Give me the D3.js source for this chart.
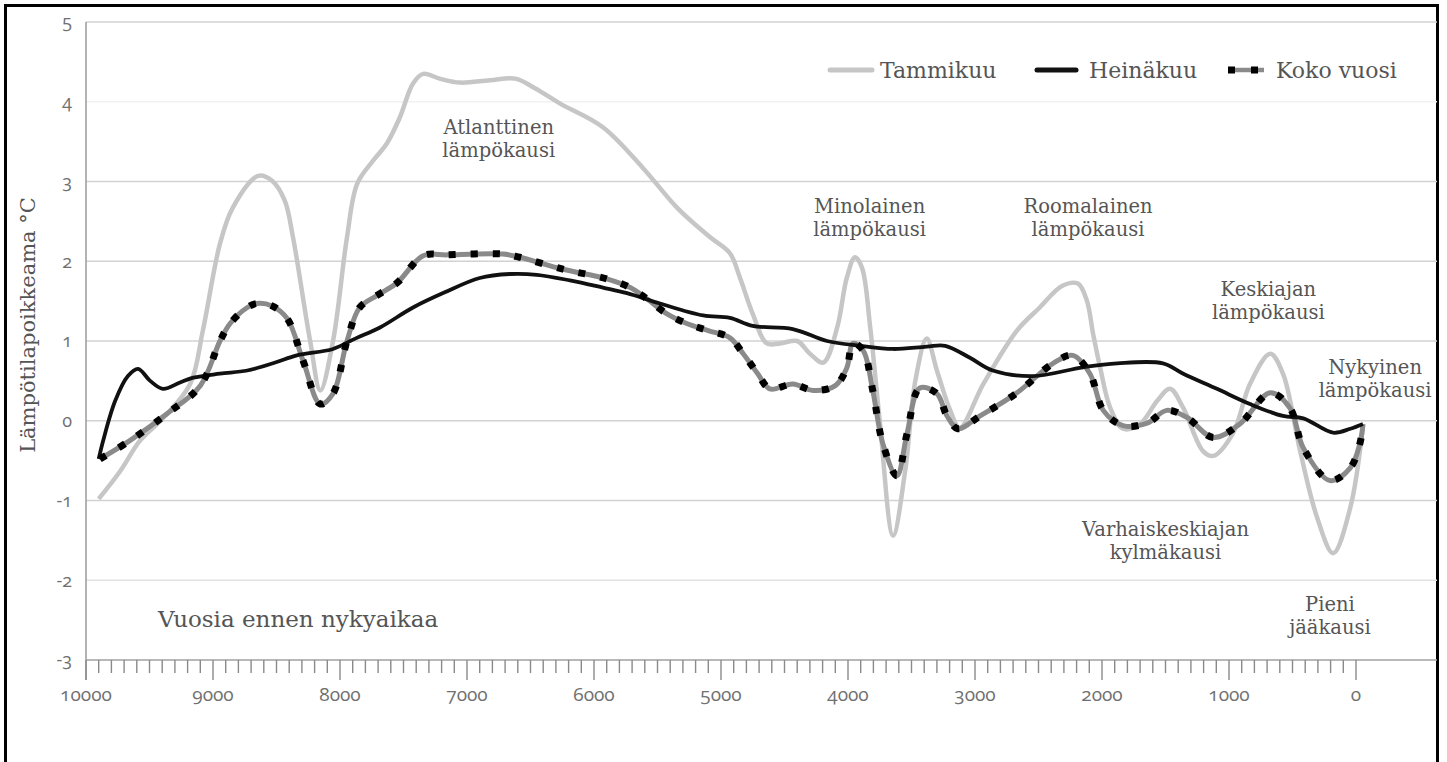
<!DOCTYPE html>
<html><head><meta charset="utf-8">
<script src="https://cdn.jsdelivr.net/npm/d3@7"></script>
<style>
html,body{margin:0;padding:0;background:#fff;}
svg{display:block;}
</style></head>
<body>
<svg id="chart" width="1447" height="762"></svg>
<script>
// ---- data ----
const yTicks = [5, 4, 3, 2, 1, 0, -1, -2, -3];
const xTickLabels = ["10000","9000","8000","7000","6000","5000","4000","3000","2000","1000","0"];
const xTickValues = [10000,9000,8000,7000,6000,5000,4000,3000,2000,1000,0];
const seriesNames = ["Tammikuu", "Heinäkuu", "Koko vuosi"];

const tammikuuYears = [9900,9730,9575,9395,9180,9080,8945,8845,8645,8535,8435,8370,8235,8155,8055,7945,7865,7740,7630,7530,7425,7345,7215,7055,6820,6620,6465,6270,5930,5615,5345,5085,4930,4850,4750,4640,4535,4400,4300,4195,4085,4010,3945,3890,3825,3750,3645,3550,3470,3380,3300,3195,3120,2935,2670,2490,2315,2190,2120,2070,2015,1935,1835,1700,1565,1465,1360,1205,1125,970,835,675,575,440,305,180,45,-55];
const tammikuuValues = [-0.98,-0.63,-0.25,0.03,0.46,1.13,2.22,2.67,3.07,3.01,2.76,2.30,1.00,0.38,1.00,2.30,2.97,3.26,3.48,3.80,4.23,4.35,4.29,4.24,4.27,4.29,4.17,3.98,3.68,3.17,2.67,2.30,2.10,1.79,1.34,0.97,0.97,1.00,0.84,0.73,1.17,1.79,2.05,1.92,1.17,0.00,-1.44,-0.63,0.50,1.03,0.63,0.13,-0.09,0.46,1.13,1.42,1.69,1.72,1.51,1.09,0.67,0.16,-0.10,-0.04,0.25,0.40,0.16,-0.38,-0.44,-0.16,0.46,0.84,0.59,-0.38,-1.22,-1.66,-1.09,-0.06];

const heinakuuYears = [9900,9865,9770,9670,9590,9495,9395,9260,9155,8945,8730,8510,8340,8055,7880,7685,7425,7175,6900,6660,6450,6190,5930,5740,5480,5140,4930,4750,4435,4165,3905,3645,3380,3235,3040,2860,2545,2150,1880,1520,1360,1095,835,575,415,180,45,-55];
const heinakuuValues = [-0.48,-0.25,0.25,0.56,0.65,0.50,0.40,0.48,0.54,0.59,0.63,0.73,0.82,0.90,1.03,1.17,1.42,1.61,1.79,1.84,1.83,1.76,1.67,1.60,1.47,1.32,1.29,1.19,1.15,1.00,0.94,0.90,0.93,0.94,0.79,0.63,0.56,0.67,0.72,0.72,0.59,0.40,0.21,0.06,0.03,-0.15,-0.10,-0.04];

const kokoYears = [9890,9655,9360,9100,8945,8865,8730,8655,8535,8415,8290,8155,8055,7945,7845,7710,7550,7345,7155,6715,6585,6245,5900,5715,5585,5425,5270,5100,4930,4825,4715,4615,4435,4275,4100,4010,3960,3880,3805,3725,3615,3535,3435,3300,3220,3135,2960,2670,2385,2230,2095,1990,1835,1645,1490,1330,1125,915,675,520,415,205,45,-30,-55];
const kokoValues = [-0.48,-0.25,0.09,0.44,1.00,1.22,1.42,1.47,1.44,1.28,0.75,0.21,0.34,1.00,1.42,1.57,1.73,2.07,2.08,2.09,2.05,1.90,1.78,1.67,1.53,1.34,1.22,1.13,1.04,0.84,0.60,0.40,0.46,0.38,0.44,0.66,0.97,0.88,0.38,-0.29,-0.69,-0.16,0.41,0.34,0.06,-0.10,0.06,0.35,0.72,0.82,0.59,0.13,-0.06,-0.03,0.13,0.04,-0.21,-0.04,0.35,0.16,-0.34,-0.75,-0.59,-0.29,-0.04];

const annotations = [
  {lines:["Atlanttinen","lämpökausi"], year:6750, value:3.6},
  {lines:["Minolainen","lämpökausi"], year:3830, value:2.6},
  {lines:["Roomalainen","lämpökausi"], year:2110, value:2.6},
  {lines:["Keskiajan","lämpökausi"], year:690, value:1.57},
  {lines:["Nykyinen","lämpökausi"], year:-150, value:0.58},
  {lines:["Varhaiskeskiajan","kylmäkausi"], year:1500, value:-1.44},
  {lines:["Pieni","jääkausi"], year:205, value:-2.39}
];
const xAxisNote = "Vuosia ennen nykyaikaa";
const yAxisTitle = "Lämpötilapoikkeama °C";

// ---- layout ----
const svg = d3.select("#chart");
const x = d3.scaleLinear().domain([10000, 0]).range([86, 1356]);
const y = d3.scaleLinear().domain([-3, 5]).range([660, 22]);
const gridRight = 1437;

// frame
svg.append("rect").attr("x",5.5).attr("y",5.5).attr("width",1432).attr("height",800)
  .attr("fill","none").attr("stroke","#000").attr("stroke-width",3);

// gridlines
svg.append("g").selectAll("line").data(yTicks.filter(d => d > -3)).join("line")
  .attr("x1", x(10000)).attr("x2", gridRight)
  .attr("y1", d => y(d)).attr("y2", d => y(d))
  .attr("stroke", d => d === 4 ? "#f1f1f1" : (d === -2 ? "#e2e2e2" : "#d2d2d2"))
  .attr("stroke-width", 1.6);

// bottom axis line
svg.append("line").attr("x1", x(10000)).attr("x2", gridRight).attr("y1", y(-3)).attr("y2", y(-3))
  .attr("stroke","#a0a0a0").attr("stroke-width",1.6);
// left axis line
svg.append("line").attr("x1", x(10000)).attr("x2", x(10000)).attr("y1", y(5)).attr("y2", y(-3)+20)
  .attr("stroke","#a0a0a0").attr("stroke-width",1.6);

// x ticks: minor every 100 years, major every 1000
const minor = d3.range(0, 10001, 100);
svg.append("g").selectAll("line").data(minor).join("line")
  .attr("x1", d => x(d)).attr("x2", d => x(d))
  .attr("y1", y(-3)).attr("y2", d => y(-3) + (d % 1000 === 0 ? 20 : 13))
  .attr("stroke", "#8a8a8a").attr("stroke-width", 1.4);

const numFont = "'Open Sans', 'Noto Sans', sans-serif";
// x tick labels
svg.append("g").selectAll("text").data(xTickValues).join("text")
  .attr("x", d => x(d)).attr("y", 701)
  .attr("text-anchor","middle")
  .style("font-family", numFont).style("font-size","19px")
  .style("font-variant-numeric","oldstyle-nums").style("font-feature-settings","'onum' 1")
  .attr("fill","#707070")
  .text((d,i) => xTickLabels[i]);

// y tick labels
svg.append("g").selectAll("text").data(yTicks).join("text")
  .attr("x", 72).attr("y", d => y(d))
  .attr("dy","0.35em")
  .attr("text-anchor","end")
  .style("font-family", numFont).style("font-size","18px")
  .style("font-variant-numeric","oldstyle-nums").style("font-feature-settings","'onum' 1")
  .attr("fill","#707070")
  .text(d => d);

const serif = "'DejaVu Serif', serif";
// y axis title
svg.append("text").attr("transform","translate(35,325) rotate(-90)")
  .attr("text-anchor","middle")
  .style("font-family", serif).style("font-size","21px").attr("fill","#555")
  .text(yAxisTitle);

// x-axis note
svg.append("text").attr("x",158).attr("y",627)
  .style("font-family", serif).style("font-size","23px").attr("fill","#555")
  .text(xAxisNote);

// series lines
const line = d3.line().x(d => x(d[0])).y(d => y(d[1])).curve(d3.curveCatmullRom.alpha(0.5));
const tData = tammikuuYears.map((yr,i) => [yr, tammikuuValues[i]]);
const hData = heinakuuYears.map((yr,i) => [yr, heinakuuValues[i]]);
const kData = kokoYears.map((yr,i) => [yr, kokoValues[i]]);

svg.append("path").attr("d", line(tData)).attr("fill","none")
  .attr("stroke","#c6c6c6").attr("stroke-width",4.5).attr("stroke-linejoin","round");
svg.append("path").attr("d", line(kData)).attr("fill","none")
  .attr("stroke","#8a8a8a").attr("stroke-width",5).attr("stroke-linejoin","round");
svg.append("path").attr("d", line(hData)).attr("fill","none")
  .attr("stroke","#111").attr("stroke-width",3.8).attr("stroke-linejoin","round");
svg.append("path").attr("d", line(kData)).attr("fill","none")
  .attr("stroke","#000").attr("stroke-width",7).attr("stroke-dasharray","7 15");

// annotations
const ann = svg.append("g");
annotations.forEach(a => {
  const t = ann.append("text").attr("text-anchor","middle")
    .style("font-family", serif).style("font-size","19.5px").attr("fill","#555");
  a.lines.forEach((ln, i) => {
    t.append("tspan").attr("x", x(a.year)).attr("y", y(a.value) + i*23).text(ln);
  });
});

// legend
const lg = svg.append("g");
const legendItems = [
  {name: seriesNames[0], tx: 880},
  {name: seriesNames[1], tx: 1089},
  {name: seriesNames[2], tx: 1276}
];
lg.append("line").attr("x1",830).attr("x2",872).attr("y1",70).attr("y2",70)
  .attr("stroke","#c6c6c6").attr("stroke-width",5).attr("stroke-linecap","round");
lg.append("line").attr("x1",1037).attr("x2",1076).attr("y1",70).attr("y2",70)
  .attr("stroke","#111").attr("stroke-width",5).attr("stroke-linecap","round");
lg.append("line").attr("x1",1228).attr("x2",1264).attr("y1",70).attr("y2",70)
  .attr("stroke","#8a8a8a").attr("stroke-width",4.5);
lg.append("line").attr("x1",1228).attr("x2",1262).attr("y1",70).attr("y2",70)
  .attr("stroke","#000").attr("stroke-width",7).attr("stroke-dasharray","7 16");
legendItems.forEach(it => {
  lg.append("text").attr("x", it.tx).attr("y", 78)
    .style("font-family", serif).style("font-size","22px").attr("fill","#555")
    .text(it.name);
});
</script>
</body></html>
